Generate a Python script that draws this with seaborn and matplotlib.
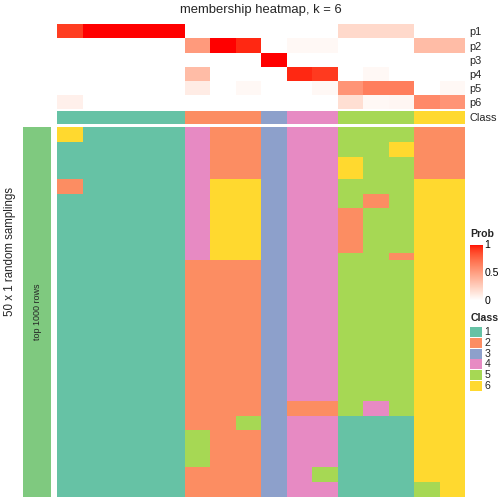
import numpy as np
import pandas as pd
import matplotlib
matplotlib.use("Agg")
import matplotlib.pyplot as plt
import seaborn as sns
from matplotlib.colors import ListedColormap
from matplotlib.patches import Rectangle

sns.set_theme(style="white")
plt.rcParams['font.family'] = ['Liberation Sans', 'DejaVu Sans']

# ---------------- data ----------------
title = "membership heatmap, k = 6"
column_class = [1, 1, 1, 1, 1, 2, 2, 2, 3, 4, 4, 5, 5, 5, 6, 6]
prob_labels = ["p1", "p2", "p3", "p4", "p5", "p6"]
p1 = [0.9, 1, 1, 1, 1, 0, 0, 0, 0, 0, 0, 0.2, 0.2, 0.2, 0, 0]
p2 = [0, 0, 0, 0, 0, 0.52, 1, 0.95, 0, 0.04, 0.04, 0, 0, 0, 0.35, 0.35]
p3 = [0, 0, 0, 0, 0, 0, 0, 0, 1, 0, 0, 0, 0, 0, 0, 0]
p4 = [0, 0, 0, 0, 0, 0.35, 0, 0, 0, 0.95, 0.91, 0, 0.04, 0, 0, 0]
p5 = [0, 0, 0, 0, 0, 0.1, 0, 0.04, 0, 0, 0.04, 0.55, 0.65, 0.65, 0, 0.04]
p6 = [0.08, 0, 0, 0, 0, 0, 0, 0, 0, 0, 0, 0.17, 0.04, 0.05, 0.6, 0.55]

# class assigned in each of 50 random samplings (rows) for each sample (columns)
membership_rows = (
    ["6111142234455522"] * 2 +
    ["1111142234455622"] * 2 +
    ["1111142234465522"] * 3 +
    ["2111146634455566"] * 2 +
    ["1111146634452566"] * 2 +
    ["1111146634425566"] * 6 +
    ["1111146634455266"] * 1 +
    ["1111122234455566"] * 19 +
    ["1111122232254566"] * 2 +
    ["1111122534411166"] * 2 +
    ["1111152234411166"] * 5 +
    ["1111122234511166"] * 2 +
    ["1111122234411156"] * 2
)
class_levels = [1, 2, 3, 4, 5, 6]
class_colors = ["#66C2A5", "#FC8D62", "#8DA0CB", "#E78AC3", "#A6D854", "#FFD92F"]
side_label = "top 1000 rows"
side_color = "#7FC97F"
row_title = "50 x 1 random samplings"

# ---------------- white -> red colormap interpolated in LAB ----------------
M = np.array([[0.4124564, 0.3575761, 0.1804375],
              [0.2126729, 0.7151522, 0.0721750],
              [0.0193339, 0.1191920, 0.9503041]])
WP = np.array([0.95047, 1.0, 1.08883])


def srgb_to_lab(rgb):
    rgb = np.asarray(rgb, float)
    lin = np.where(rgb <= 0.04045, rgb / 12.92, ((rgb + 0.055) / 1.055) ** 2.4)
    t = (lin @ M.T) / WP
    f = np.where(t > (6 / 29) ** 3, np.cbrt(t), t / (3 * (6 / 29) ** 2) + 4 / 29)
    return np.stack([116 * f[..., 1] - 16, 500 * (f[..., 0] - f[..., 1]),
                     200 * (f[..., 1] - f[..., 2])], -1)


def lab_to_srgb(lab):
    fy_ = (lab[..., 0] + 16) / 116
    fx_ = fy_ + lab[..., 1] / 500
    fz_ = fy_ - lab[..., 2] / 200

    def finv(f):
        return np.where(f > 6 / 29, f ** 3, 3 * (6 / 29) ** 2 * (f - 4 / 29))
    xyz = np.stack([finv(fx_), finv(fy_), finv(fz_)], -1) * WP
    lin = np.clip(xyz @ np.linalg.inv(M).T, 0, 1)
    rgb = np.where(lin <= 0.0031308, 12.92 * lin, 1.055 * lin ** (1 / 2.4) - 0.055)
    return np.clip(rgb, 0, 1)


lab0 = srgb_to_lab([1, 1, 1])
lab1 = srgb_to_lab([1, 0, 0])
tt = np.linspace(0, 1, 256)[:, None]
prob_cmap = ListedColormap(lab_to_srgb(lab0 + (lab1 - lab0) * tt))
class_cmap = ListedColormap(class_colors)

# ---------------- layout ----------------
W = H = 504
fig = plt.figure(figsize=(7, 7), dpi=72)


def add_ax(x0, y0, x1, y1):
    return fig.add_axes([x0 / W, 1 - y1 / H, (x1 - x0) / W, (y1 - y0) / H])


def fx(x):
    return x / W


def fy(y):
    return 1 - y / H


ax_prob = add_ax(57, 24.3, 465, 109.3)
ax_cls = add_ax(57, 110.7, 465, 124)
ax_main = add_ax(57, 127, 465, 497)
ax_side = add_ax(23, 127, 51, 497)
ax_cb = add_ax(469.5, 244.5, 482.5, 300.5)

prob_df = pd.DataFrame([p1, p2, p3, p4, p5, p6], index=prob_labels)
sns.heatmap(prob_df, ax=ax_prob, cmap=prob_cmap, vmin=0, vmax=1,
            cbar=True, cbar_ax=ax_cb, xticklabels=False, yticklabels=True)
ax_prob.yaxis.tick_right()
ax_prob.tick_params(axis='y', length=0, labelsize=11, pad=4, rotation=0)

cls_df = pd.DataFrame([column_class], index=["Class"])
sns.heatmap(cls_df, ax=ax_cls, cmap=class_cmap, vmin=0.5, vmax=6.5,
            cbar=False, xticklabels=False, yticklabels=True)
ax_cls.yaxis.tick_right()
ax_cls.tick_params(axis='y', length=0, labelsize=11, pad=4, rotation=0)

main = np.array([[int(c) for c in r] for r in membership_rows])
sns.heatmap(pd.DataFrame(main), ax=ax_main, cmap=class_cmap, vmin=0.5, vmax=6.5,
            cbar=False, xticklabels=False, yticklabels=False)

sns.heatmap(pd.DataFrame([[1]]), ax=ax_side, cmap=ListedColormap([side_color]),
            cbar=False, xticklabels=False, yticklabels=False)
ax_side.text(0.5, 0.5, side_label, rotation=90, ha='center', va='center',
             fontsize=9, transform=ax_side.transAxes)

fig.text(fx(10), fy(252), row_title, rotation=90, ha='center', va='center', fontsize=11.5)
fig.text(fx(261), fy(10), title, ha='center', va='center', fontsize=13)

# colorbar legend
cb = ax_prob.collections[0].colorbar
cb.outline.set_visible(False)
cb.set_ticks([0, 0.5, 1])
cb.set_ticklabels(["0", "0.5", "1"])
ax_cb.tick_params(axis='y', left=True, right=True, labelleft=False, labelright=True,
                  direction='in', color='white', length=3.5, width=1,
                  labelsize=10.5, labelcolor='black', pad=2)
fig.text(fx(470.3), fy(233.7), "Prob", ha='left', va='center', fontsize=10.5, fontweight='bold')

# class legend
fig.text(fx(470.3), fy(318), "Class", ha='left', va='center', fontsize=10.5, fontweight='bold')
for i, (lvl, col) in enumerate(zip(class_levels, class_colors)):
    top = 327.3 + i * 10.68
    fig.add_artist(Rectangle((fx(470), fy(top + 10)), 11.5 / W, 10 / H,
                             transform=fig.transFigure, facecolor=col, edgecolor='none'))
    fig.text(fx(484.7), fy(top + 5), str(lvl), ha='left', va='center', fontsize=10.5)

fig.savefig("out.png", dpi=72)
